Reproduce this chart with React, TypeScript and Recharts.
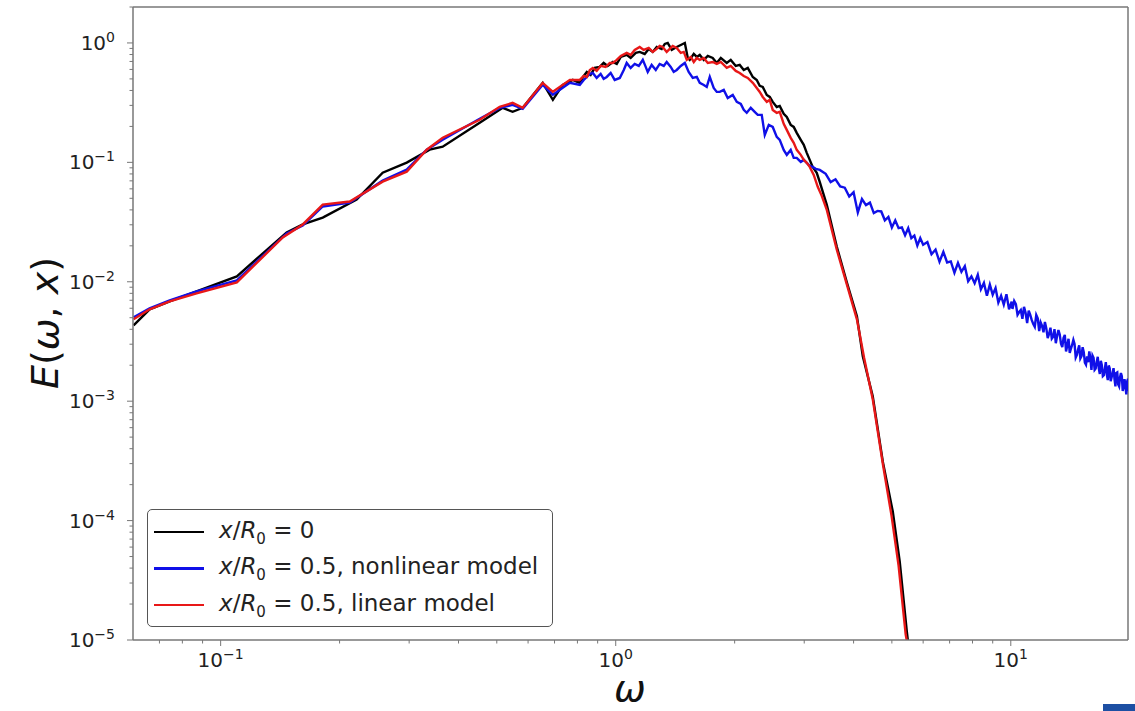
import { LineChart, Line, XAxis, YAxis, ReferenceLine } from "recharts";

// x/R0 = 0
const blackW = [
  0.0602, 0.0661, 0.0743, 0.0869, 0.1099, 0.1469, 0.1614, 0.1813, 0.2209, 0.2571, 0.2958, 0.3381, 0.3648, 0.4526, 0.5176, 0.5483, 0.5816, 0.6535, 0.6933, 0.7345, 0.7785,
  0.811, 0.83, 0.845, 0.864, 0.885, 0.911, 0.932, 0.954, 0.983, 1.006, 1.03, 1.066, 1.091, 1.124, 1.15, 1.184, 1.212, 1.241, 1.27, 1.307, 1.331, 1.354, 1.386, 1.427, 1.461, 1.496,
  1.522, 1.539, 1.576, 1.604, 1.632, 1.671, 1.71, 1.76, 1.802, 1.845, 1.91, 1.955, 2.013, 2.06, 2.109, 2.159, 2.223, 2.275, 2.315, 2.356, 2.412, 2.454, 2.497, 2.556, 2.601,
  2.662, 2.71, 2.773, 2.822, 2.872, 2.94, 2.992, 3.045, 3.098, 3.152, 3.227, 3.284, 3.343, 3.422,
  3.6249, 3.8457, 4.0785, 4.2208, 4.4725, 4.7445, 5.0264, 5.2346, 5.4546, 5.53,
];
const blackE = [
  0.00432, 0.00588, 0.00686, 0.00832, 0.0111, 0.0259, 0.0302, 0.0345, 0.0488, 0.082, 0.0994, 0.1277, 0.1352, 0.2147, 0.286, 0.265, 0.286, 0.463, 0.334, 0.446, 0.491,
  0.463, 0.529, 0.572, 0.54, 0.618, 0.63, 0.68, 0.642, 0.693, 0.667, 0.764, 0.794, 0.749, 0.825, 0.841, 0.809, 0.891, 0.841, 0.926, 0.891, 0.981, 1.0, 0.874, 0.926, 0.962, 1.0,
  0.749, 0.721, 0.809, 0.764, 0.794, 0.721, 0.778, 0.749, 0.68, 0.749, 0.68, 0.721, 0.642, 0.655, 0.594, 0.618, 0.519, 0.49, 0.437, 0.428, 0.367, 0.353, 0.321, 0.291, 0.297,
  0.255, 0.24, 0.206, 0.198, 0.1766, 0.1543, 0.1401, 0.1201, 0.1049, 0.0917, 0.0817, 0.0687, 0.0566, 0.0441,
  0.0198, 0.00989, 0.00514, 0.00238, 0.0011, 0.00031, 0.000119, 4.53e-5, 1.18e-5, 8e-6,
];

// x/R0 = 0.5, nonlinear model
const blueW = [
  0.0602, 0.0661, 0.0743, 0.0869, 0.1099, 0.1469, 0.1614, 0.1813, 0.2122, 0.2571, 0.2958, 0.3324, 0.3648, 0.4526, 0.5085, 0.5483, 0.5816, 0.6535, 0.6933, 0.7654,
  0.811, 0.83, 0.845, 0.86, 0.875, 0.895, 0.916, 0.932, 0.949, 0.971, 0.994, 1.024, 1.048, 1.066, 1.091, 1.117, 1.144, 1.171, 1.191, 1.205, 1.233, 1.263, 1.292, 1.323,
  1.346, 1.378, 1.402, 1.427, 1.461, 1.496, 1.53, 1.567, 1.604, 1.632, 1.671, 1.7, 1.73, 1.77, 1.802, 1.834, 1.877, 1.921, 1.978, 2.025, 2.073, 2.109, 2.146, 2.197,
  2.248, 2.288, 2.342, 2.384, 2.44, 2.497, 2.556, 2.601, 2.662, 2.71, 2.773, 2.822, 2.872, 2.94, 2.992, 3.045, 3.098, 3.152, 3.208, 3.284,
  3.4, 3.5, 3.6, 3.7, 3.8, 3.9, 4.0, 4.1, 4.2, 4.3, 4.4, 4.5, 4.6, 4.7, 4.8, 4.9, 5.0, 5.1, 5.2, 5.3, 5.4, 5.5, 5.6, 5.7, 5.8, 5.9, 6.0,
  6.15, 6.3, 6.45, 6.6, 6.75, 6.9, 7.05, 7.2, 7.35, 7.5, 7.65, 7.8, 7.95, 8.1, 8.25, 8.4, 8.55, 8.7, 8.85, 9.0, 9.15, 9.3, 9.45, 9.6, 9.75, 9.9, 10.05,
  10.1, 10.2, 10.3, 10.4, 10.5, 10.6, 10.7, 10.8, 10.9, 11.0, 11.1, 11.2, 11.3, 11.4, 11.5, 11.6, 11.7, 11.8, 11.9, 12.0,
  12.1, 12.2, 12.3, 12.4, 12.5, 12.6, 12.7, 12.8, 12.9, 13.0, 13.1, 13.2, 13.3, 13.4, 13.5, 13.6, 13.7, 13.8, 13.9, 14.0,
  14.1, 14.2, 14.3, 14.4, 14.5, 14.6, 14.7, 14.8, 14.9, 15.0, 15.1, 15.2, 15.3, 15.4, 15.5, 15.6, 15.7, 15.8, 15.9, 16.0,
  16.1, 16.2, 16.3, 16.4, 16.5, 16.6, 16.7, 16.8, 16.9, 17.0, 17.1, 17.2, 17.3, 17.4, 17.5, 17.6, 17.7, 17.8, 17.9, 18.0,
  18.1, 18.2, 18.3, 18.4, 18.5, 18.6, 18.7, 18.8, 18.9, 19.0, 19.1, 19.2, 19.3, 19.4, 19.5, 19.6, 19.7, 19.8, 19.9, 20.0,
];
const blueE = [
  0.00504, 0.006, 0.007, 0.00832, 0.01028, 0.0254, 0.0296, 0.0427, 0.0461, 0.0703, 0.0869, 0.1277, 0.1548, 0.2318, 0.286, 0.303, 0.281, 0.446, 0.368, 0.463,
  0.445, 0.49, 0.519, 0.55, 0.561, 0.509, 0.55, 0.5, 0.519, 0.561, 0.49, 0.509, 0.594, 0.68, 0.618, 0.667, 0.642, 0.721, 0.63, 0.572, 0.655, 0.594, 0.667, 0.642,
  0.693, 0.63, 0.572, 0.594, 0.642, 0.68, 0.572, 0.509, 0.519, 0.463, 0.445, 0.428, 0.519, 0.42, 0.389, 0.389, 0.404, 0.346, 0.367, 0.321, 0.309, 0.275, 0.26, 0.286,
  0.265, 0.25, 0.25, 0.17, 0.206, 0.198, 0.1634, 0.1543, 0.1272, 0.1156, 0.1272, 0.1091, 0.1091, 0.101, 0.1049, 0.099, 0.0935, 0.0917, 0.0882, 0.0865,
  0.0801, 0.0684, 0.0722, 0.0628, 0.0614, 0.0517, 0.0562, 0.0381, 0.0493, 0.0439, 0.046, 0.0376, 0.0392, 0.0388, 0.0327, 0.0349, 0.0285, 0.0327, 0.0281, 0.0285, 0.0245, 0.0281, 0.0232, 0.0244, 0.0201, 0.0232, 0.0204,
  0.0215, 0.017, 0.0186, 0.0147, 0.0178, 0.0145, 0.0148, 0.0119, 0.0144, 0.0121, 0.0135, 0.0101, 0.0111, 0.00973, 0.01143, 0.00866, 0.00978, 0.00763, 0.00947, 0.0078, 0.00885, 0.0067, 0.00763, 0.00643, 0.00785, 0.00587, 0.00682,
  0.00592, 0.0069, 0.0065, 0.00529, 0.00558, 0.0058, 0.0049, 0.00616, 0.00549, 0.0045, 0.00573, 0.00527, 0.00477, 0.00444, 0.0042, 0.00527, 0.00494, 0.00387, 0.00457, 0.00427,
  0.00378, 0.0046, 0.00407, 0.00337, 0.00366, 0.00412, 0.00334, 0.00346, 0.00401, 0.00306, 0.00353, 0.00394, 0.00361, 0.00303, 0.00284, 0.0034, 0.00359, 0.00261, 0.00293, 0.00333,
  0.00254, 0.00276, 0.00297, 0.00326, 0.00301, 0.00232, 0.00244, 0.00271, 0.00293, 0.00228, 0.00238, 0.00283, 0.00257, 0.0021, 0.00202, 0.00237, 0.00212, 0.00261, 0.00229, 0.00183,
  0.00241, 0.00231, 0.00183, 0.00188, 0.00214, 0.00235, 0.00188, 0.00169, 0.00218, 0.002, 0.00162, 0.00165, 0.00187, 0.00212, 0.00167, 0.0015, 0.00199, 0.00188, 0.00147, 0.00159,
  0.00173, 0.00189, 0.00154, 0.00133, 0.00172, 0.00174, 0.00138, 0.00133, 0.00158, 0.00172, 0.00162, 0.00122, 0.00131, 0.00153, 0.00138, 0.00114, 0.00146, 0.00154, 0.00124, 0.00115,
];

// x/R0 = 0.5, linear model
const redW = [
  0.0602, 0.0661, 0.0743, 0.0869, 0.1099, 0.1436, 0.1614, 0.1813, 0.2122, 0.2571, 0.2958, 0.3324, 0.3648, 0.4526, 0.5085, 0.5483, 0.5816, 0.6535, 0.6933, 0.7654,
  0.811, 0.83, 0.845, 0.86, 0.875, 0.895, 0.916, 0.943, 0.966, 0.983, 1.006, 1.03, 1.066, 1.091, 1.117, 1.15, 1.177, 1.212, 1.241, 1.27, 1.292, 1.315, 1.346, 1.37, 1.394,
  1.427, 1.461, 1.487, 1.513, 1.549, 1.576, 1.604, 1.632, 1.671, 1.71, 1.76, 1.802, 1.845, 1.91, 1.955, 2.013, 2.06, 2.109, 2.159, 2.223, 2.275, 2.315, 2.356, 2.412,
  2.454, 2.497, 2.556, 2.601, 2.662, 2.71, 2.773, 2.822, 2.872, 2.94, 2.992, 3.045, 3.098, 3.171, 3.246, 3.323, 3.422,
  3.6249, 3.8457, 4.0785, 4.25, 4.4725, 4.7445, 4.99, 5.2, 5.42, 5.52,
];
const redE = [
  0.00485, 0.00588, 0.00686, 0.008, 0.00989, 0.0235, 0.0302, 0.0443, 0.047, 0.069, 0.0836, 0.1277, 0.1608, 0.2274, 0.292, 0.315, 0.286, 0.463, 0.39, 0.491,
  0.49, 0.529, 0.519, 0.594, 0.618, 0.583, 0.642, 0.63, 0.68, 0.68, 0.721, 0.778, 0.825, 0.794, 0.874, 0.926, 0.874, 0.908, 0.841, 0.891, 0.944, 0.926, 0.841, 0.891, 0.944,
  0.908, 0.825, 0.841, 0.721, 0.764, 0.693, 0.749, 0.721, 0.749, 0.68, 0.693, 0.667, 0.693, 0.618, 0.642, 0.583, 0.561, 0.529, 0.509, 0.463, 0.42, 0.389, 0.353, 0.321,
  0.333, 0.275, 0.26, 0.265, 0.21, 0.187, 0.1603, 0.1456, 0.1272, 0.1156, 0.1049, 0.099, 0.0917, 0.0786, 0.0624, 0.0524, 0.04,
  0.0187, 0.00951, 0.00485, 0.00233, 0.00104, 0.000298, 0.00011, 4.19e-5, 1.11e-5, 8e-6,
];

const xTicks = [0.07, 0.08, 0.09, 0.1, 0.2, 0.3, 0.4, 0.5, 0.6, 0.7, 0.8, 0.9, 1, 2, 3, 4, 5, 6, 7, 8, 9, 10];
const yTicks = [
  1e-5, 2e-5, 3e-5, 4e-5, 5e-5, 6e-5, 7e-5, 8e-5, 9e-5,
  1e-4, 2e-4, 3e-4, 4e-4, 5e-4, 6e-4, 7e-4, 8e-4, 9e-4,
  1e-3, 2e-3, 3e-3, 4e-3, 5e-3, 6e-3, 7e-3, 8e-3, 9e-3,
  1e-2, 2e-2, 3e-2, 4e-2, 5e-2, 6e-2, 7e-2, 8e-2, 9e-2,
  0.1, 0.2, 0.3, 0.4, 0.5, 0.6, 0.7, 0.8, 0.9, 1, 2,
];

const zip = (w: number[], e: number[]) => w.map((v, i) => ({ w: v, e: e[i] }));
const blackData = zip(blackW, blackE);
const blueData = zip(blueW, blueE);
const redData = zip(redW, redE);

const AXIS = "#777";
const FONT = "DejaVu Sans";
const BLACK = "#000000";
const BLUE = "#1010e8";
const RED = "#e81818";

function expOf(v: number) {
  const ex = Math.log10(v);
  const r = Math.round(ex);
  return { major: Math.abs(ex - r) < 1e-6, label: r < 0 ? "\u2212" + -r : String(r) };
}

function XTick(props: any) {
  const { x, y, payload } = props;
  const { major, label } = expOf(payload.value);
  return (
    <g>
      <line x1={x} x2={x} y1={y} y2={y + (major ? 6 : 3.5)} stroke={AXIS} strokeWidth={1} />
      {major && (
        <text x={x} y={y + 27} textAnchor="middle" fontSize={20} fill="#222" fontFamily={FONT}>
          10<tspan dy={-8} fontSize={14}>{label}</tspan>
        </text>
      )}
    </g>
  );
}

function YTick(props: any) {
  const { x, y, payload } = props;
  const { major, label } = expOf(payload.value);
  return (
    <g>
      <line x1={x - (major ? 6 : 3.5)} x2={x} y1={y} y2={y} stroke={AXIS} strokeWidth={1} />
      {major && (
        <text x={x - 18} y={y + 7} textAnchor="end" fontSize={20} fill="#222" fontFamily={FONT}>
          10<tspan dy={-8} fontSize={14}>{label}</tspan>
        </text>
      )}
    </g>
  );
}

const legendRows = [
  { color: BLACK, value: "0" },
  { color: BLUE, value: "0.5, nonlinear model" },
  { color: RED, value: "0.5, linear model" },
];

export default function App() {
  return (
    <div style={{ position: "absolute", left: 0, top: 0, width: 1135, height: 711, background: "#fff", fontFamily: FONT, overflow: "hidden" }}>
      <LineChart width={1135} height={711} margin={{ top: 7, right: 7, bottom: 0, left: 0 }}>
        <XAxis
          type="number"
          dataKey="w"
          scale="log"
          domain={[0.06, 19.8]}
          allowDataOverflow
          ticks={xTicks}
          interval={0}
          tick={<XTick />}
          tickLine={false}
          tickSize={0}
          tickMargin={0}
          height={71}
          axisLine={{ stroke: AXIS, strokeWidth: 1.5 }}
        />
        <YAxis
          type="number"
          dataKey="e"
          scale="log"
          domain={[1e-5, 2]}
          allowDataOverflow
          ticks={yTicks}
          interval={0}
          tick={<YTick />}
          tickLine={false}
          tickSize={0}
          tickMargin={0}
          width={133}
          axisLine={{ stroke: AXIS, strokeWidth: 1.5 }}
        />
        <ReferenceLine y={2} stroke={AXIS} strokeWidth={1.5} />
        <ReferenceLine x={19.8} stroke={AXIS} strokeWidth={1.5} />
        <Line data={blackData} dataKey="e" type="linear" stroke={BLACK} strokeWidth={2.4} dot={false} isAnimationActive={false} />
        <Line data={blueData} dataKey="e" type="linear" stroke={BLUE} strokeWidth={2.4} dot={false} isAnimationActive={false} />
        <Line data={redData} dataKey="e" type="linear" stroke={RED} strokeWidth={2.4} dot={false} isAnimationActive={false} />
      </LineChart>

      {/* legend */}
      <div style={{ position: "absolute", left: 147, top: 509, width: 406, height: 118, border: "1.5px solid #555", borderRadius: 5, boxSizing: "border-box", background: "rgba(255,255,255,0.85)" }}>
        {legendRows.map((r, i) => (
          <div key={i} style={{ position: "absolute", left: 6, top: 22 + i * 36.5 - 15, height: 30, display: "flex", alignItems: "center", whiteSpace: "nowrap" }}>
            <div style={{ width: 50, height: 2.5, background: r.color }} />
            <div style={{ marginLeft: 15, fontSize: 23, color: "#222" }}>
              <i>x</i>/<i>R</i>
              <sub style={{ fontSize: 15 }}>0</sub>
              <span> = {r.value}</span>
            </div>
          </div>
        ))}
      </div>

      {/* axis labels */}
      <div style={{ position: "absolute", left: 630, top: 688, transform: "translate(-50%, -50%)", fontSize: 38, fontStyle: "italic", color: "#111" }}>ω</div>
      <div style={{ position: "absolute", left: 45, top: 323, transform: "translate(-50%, -50%) rotate(-90deg)", fontSize: 38, color: "#111", whiteSpace: "nowrap" }}>
        <i>E</i>(<i>ω</i>, <i>x</i>)
      </div>

      <div style={{ position: "absolute", left: 1103, top: 704, width: 32, height: 7, background: "#1d4fa3" }} />
    </div>
  );
}
